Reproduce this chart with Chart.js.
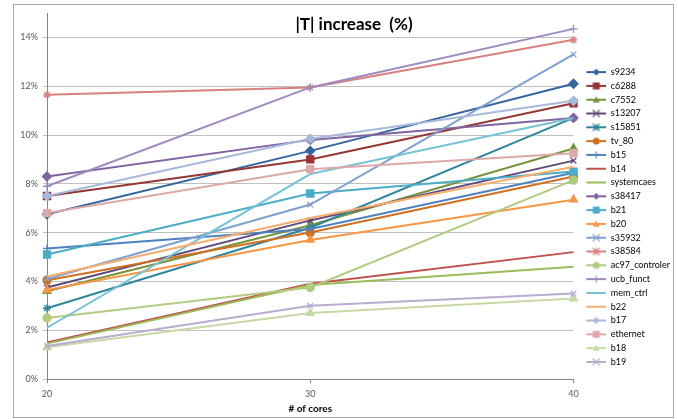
<!DOCTYPE html>
<html>
<head>
<meta charset="utf-8">
<script src="https://cdn.jsdelivr.net/npm/chart.js@4.4.1/dist/chart.umd.min.js"></script>
<style>
  html, body { margin: 0; padding: 0; background: #fff; }
  #wrap { width: 678px; height: 419px; position: relative; }
</style>
</head>
<body>
<div id="wrap"><canvas id="tChart"></canvas></div>
<script>
// # of cores
const cores = ['20', '30', '40'];

// |T| increase in % per design
const s9234 = [6.75, 9.35, 12.1];
const c6288 = [7.5, 9.0, 11.3];
const c7552 = [3.6, 6.3, 9.45];
const s13207 = [3.75, 6.5, 8.95];
const s15851 = [2.9, 6.2, 10.7];
const tv_80 = [4.05, 6.0, 8.3];
const b15 = [5.35, 6.15, 8.45];
const b14 = [1.5, 3.9, 5.2];
const systemcaes = [1.45, 3.85, 4.6];
const s38417 = [8.3, 9.8, 10.7];
const b21 = [5.1, 7.6, 8.5];
const b20 = [3.65, 5.7, 7.35];
const s35932 = [4.1, 7.15, 13.3];
const s38584 = [11.65, 11.95, 13.9];
const ac97_controler = [2.5, 3.75, 8.15];
const ucb_funct = [7.9, 11.95, 14.35];
const mem_ctrl = [2.1, 8.4, 10.7];
const b22 = [4.2, 6.6, 8.7];
const b17 = [7.5, 9.85, 11.4];
const ethernet = [6.8, 8.6, 9.25];
const b18 = [1.3, 2.7, 3.3];
const b19 = [1.35, 3.0, 3.5];

const seriesNames = ['s9234', 'c6288', 'c7552', 's13207', 's15851', 'tv_80', 'b15', 'b14',
  'systemcaes', 's38417', 'b21', 'b20', 's35932', 's38584', 'ac97_controler', 'ucb_funct',
  'mem_ctrl', 'b22', 'b17', 'ethernet', 'b18', 'b19'];
const seriesValues = [s9234, c6288, c7552, s13207, s15851, tv_80, b15, b14,
  systemcaes, s38417, b21, b20, s35932, s38584, ac97_controler, ucb_funct,
  mem_ctrl, b22, b17, ethernet, b18, b19];

const yTicks = [0, 2, 4, 6, 8, 10, 12, 14];

const seriesColors = ['#35659F', '#953735', '#77933C', '#604A7B', '#31859C', '#D0701F',
  '#4F81BD', '#C0504D', '#9BBB59', '#8064A2', '#4BACC6', '#F79646',
  '#7E9FD0', '#D7807E', '#B1CB81', '#9F89BD', '#76C2D6', '#F9AC6E',
  '#A6B9DB', '#DDA9A8', '#C6D9A4', '#B8ACCF'];
const seriesMarkers = ['rectRot', 'rect', 'triangle', 'crossRot', 'star', 'circle', 'cross', null,
  null, 'rectRot', 'rect', 'triangle', 'crossRot', 'star', 'circle', 'cross',
  null, null, 'rectRot', 'rect', 'triangle', 'crossRot'];
const markerSize = { rectRot: 4.5, rect: 5, triangle: 4.5, crossRot: 4, star: 4, circle: 4, cross: 4 };

Chart.defaults.font.family = 'Lato';

function legendIcon(color, marker) {
  const c = document.createElement('canvas');
  c.width = 28; c.height = 10;
  const g = c.getContext('2d');
  g.strokeStyle = color; g.fillStyle = color; g.lineWidth = 2;
  g.beginPath(); g.moveTo(8, 5); g.lineTo(28, 5); g.stroke();
  const x = 18, y = 5, r = 3.5;
  g.lineWidth = 1.2;
  g.beginPath();
  switch (marker) {
    case 'rectRot':
      g.moveTo(x, y - r); g.lineTo(x + r, y); g.lineTo(x, y + r); g.lineTo(x - r, y); g.closePath(); g.fill();
      break;
    case 'rect':
      g.fillRect(x - 3.5, y - 3.5, 7, 7);
      break;
    case 'triangle':
      g.moveTo(x, y - r); g.lineTo(x + r, y + r * 0.8); g.lineTo(x - r, y + r * 0.8); g.closePath(); g.fill();
      break;
    case 'crossRot':
      g.moveTo(x - r, y - r); g.lineTo(x + r, y + r); g.moveTo(x + r, y - r); g.lineTo(x - r, y + r); g.stroke();
      break;
    case 'star':
      g.moveTo(x - r, y - r); g.lineTo(x + r, y + r); g.moveTo(x + r, y - r); g.lineTo(x - r, y + r);
      g.moveTo(x, y - r); g.lineTo(x, y + r); g.stroke();
      break;
    case 'circle':
      g.arc(x, y, r, 0, Math.PI * 2); g.fill();
      break;
    case 'cross':
      g.moveTo(x, y - r); g.lineTo(x, y + r); g.stroke();
      break;
  }
  return c;
}

const frame = {
  id: 'frame',
  beforeDraw(chart) {
    const ctx = chart.ctx;
    ctx.save();
    ctx.fillStyle = '#fff';
    ctx.fillRect(0, 0, chart.width, chart.height);
    ctx.strokeStyle = '#A6A6A6';
    ctx.lineWidth = 1;
    ctx.strokeRect(13.5, 4.5, 660, 413);
    ctx.restore();
  },
  afterDraw(chart) {
    const ctx = chart.ctx;
    ctx.save();
    ctx.font = 'bold 17px Lato';
    ctx.fillStyle = '#000';
    ctx.textAlign = 'center';
    ctx.textBaseline = 'middle';
    ctx.fillText('|T| increase  (%)', 354, 25);
    ctx.restore();
  }
};

const ctx = document.getElementById('tChart').getContext('2d');
const grafico = new Chart(ctx, {
  type: 'line',
  data: {
    labels: cores,
    datasets: seriesNames.map((name, i) => ({
      label: name,
      data: seriesValues[i],
      borderColor: seriesColors[i],
      backgroundColor: seriesColors[i],
      borderWidth: 2,
      pointStyle: seriesMarkers[i] || 'circle',
      pointRadius: seriesMarkers[i] ? markerSize[seriesMarkers[i]] : 0,
      pointBorderWidth: 1.3,
      tension: 0,
      order: seriesNames.length - i
    }))
  },
  options: {
    responsive: true,
    maintainAspectRatio: false,
    animation: false,
    layout: { padding: { top: 13, right: -2, bottom: 0, left: 0 } },
    plugins: {
      legend: {
        position: 'right',
        fullSize: false,
        title: { display: true, text: '', font: { size: 10 }, padding: { top: 30, bottom: 0 } },
        labels: {
          usePointStyle: true,
          pointStyleWidth: 28,
          padding: 4.8,
          color: '#000',
          font: { size: 9 },
          sort: (a, b) => a.datasetIndex - b.datasetIndex,
          generateLabels(chart) {
            const items = Chart.defaults.plugins.legend.labels.generateLabels(chart);
            items.forEach(it => {
              const i = it.datasetIndex;
              it.pointStyle = legendIcon(seriesColors[i], seriesMarkers[i]);
            });
            return items;
          }
        }
      },
      title: { display: false },
      tooltip: { enabled: false }
    },
    scales: {
      x: {
        type: 'category',
        offset: false,
        grid: { drawOnChartArea: false, tickLength: 4, color: '#868686' },
        border: { color: '#868686' },
        ticks: { color: '#595959', font: { size: 9 }, padding: 6 },
        title: { display: true, text: '# of cores', color: '#000', font: { size: 10, weight: 'bold' }, padding: { top: 0, bottom: 4 } },
        afterFit(scale) { scale.height = 40; }
      },
      y: {
        min: 0,
        max: 15,
        afterBuildTicks(scale) { scale.ticks = yTicks.map(v => ({ value: v })); },
        grid: { color: '#C0C0C0', tickLength: 4 },
        border: { color: '#868686' },
        ticks: { color: '#595959', font: { size: 9 }, padding: 5, callback: v => v + '%' },
        afterFit(scale) { scale.width = 47; }
      }
    }
  },
  plugins: [frame]
});
</script>
</body>
</html>
